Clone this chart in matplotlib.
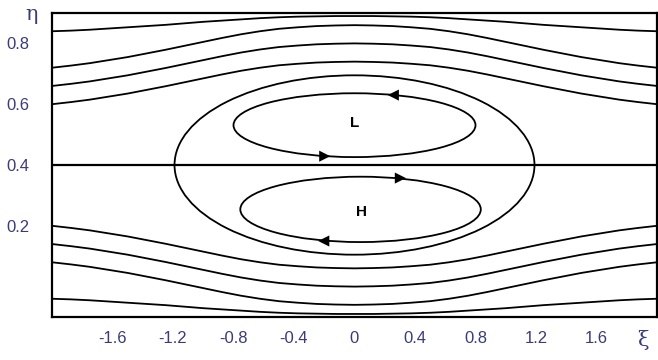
import numpy as np
import matplotlib
matplotlib.use('Agg')
import matplotlib.pyplot as plt
from matplotlib.patches import Ellipse

xi_half = [0.0, 0.125, 0.25, 0.375, 0.5, 0.625, 0.75, 0.875, 1.0,
           1.125, 1.25, 1.375, 1.5, 1.625, 1.75, 1.875, 2.0]

upper1 = [0.740, 0.739, 0.737, 0.733, 0.728, 0.720, 0.710, 0.698, 0.685,
          0.672, 0.659, 0.647, 0.635, 0.625, 0.615, 0.607, 0.600]
upper2 = [0.800, 0.799, 0.797, 0.793, 0.788, 0.780, 0.770, 0.758, 0.745,
          0.732, 0.719, 0.707, 0.695, 0.685, 0.675, 0.667, 0.660]
upper3 = [0.860, 0.859, 0.857, 0.853, 0.848, 0.840, 0.830, 0.818, 0.805,
          0.792, 0.779, 0.767, 0.755, 0.745, 0.735, 0.727, 0.720]
upper4 = [0.890, 0.890, 0.889, 0.888, 0.886, 0.883, 0.879, 0.875, 0.871,
          0.866, 0.861, 0.857, 0.853, 0.849, 0.845, 0.842, 0.840]

lower1 = [0.060, 0.061, 0.063, 0.067, 0.072, 0.080, 0.090, 0.102, 0.115,
          0.128, 0.141, 0.153, 0.165, 0.175, 0.185, 0.193, 0.200]
lower2 = [0.000, 0.001, 0.003, 0.007, 0.012, 0.020, 0.030, 0.042, 0.055,
          0.068, 0.081, 0.093, 0.105, 0.115, 0.125, 0.133, 0.140]
lower3 = [-0.060, -0.059, -0.057, -0.053, -0.048, -0.040, -0.030, -0.018, -0.005,
          0.008, 0.021, 0.033, 0.045, 0.055, 0.065, 0.073, 0.080]
lower4 = [-0.090, -0.090, -0.089, -0.088, -0.086, -0.083, -0.079, -0.075, -0.071,
          -0.066, -0.061, -0.057, -0.053, -0.049, -0.045, -0.042, -0.040]

axis_eta = 0.4

# closed streamlines: centre (xi, eta), full width, full height
separatrix = (0.0, 0.4, 2.38, 0.59)
loop_L = (0.0, 0.531, 1.60, 0.21)
loop_H = (0.04, 0.254, 1.59, 0.215)

# arrows: xi, eta, direction (+1 right, -1 left)
arrow_xi = [0.26, -0.20, 0.30, -0.20]
arrow_eta = [0.630, 0.429, 0.357, 0.150]
arrow_dir = [-1, 1, 1, -1]

labels = ['L', 'H']
label_xi = [0.0, 0.045]
label_eta = [0.537, 0.245]

x_ticks = [-1.6, -1.2, -0.8, -0.4, 0, 0.4, 0.8, 1.2, 1.6]
x_tick_labels = ['-1.6', '-1.2', '-0.8', '-0.4', '0', '0.4', '0.8', '1.2', '1.6']
y_ticks = [0.2, 0.4, 0.6, 0.8]
y_tick_labels = ['0.2', '0.4', '0.6', '0.8']

blue = '#3b3b7a'
plt.rcParams['font.family'] = ['Liberation Sans', 'DejaVu Sans']

fig = plt.figure(figsize=(6.58, 3.6), dpi=100)
ax = fig.add_axes([52 / 658, 43 / 360, 605 / 658, 304 / 360])

xi = [-v for v in xi_half[::-1]] + xi_half[1:]
for half in [upper1, upper2, upper3, upper4, lower1, lower2, lower3, lower4]:
    ax.plot(xi, half[::-1] + half[1:], color='black', lw=1.3)

ax.axhline(axis_eta, color='black', lw=1.6)

for cx, cy, w, h in [separatrix, loop_L, loop_H]:
    ax.add_patch(Ellipse((cx, cy), w, h, fill=False, ec='black', lw=1.3))

for x, y, d in zip(arrow_xi, arrow_eta, arrow_dir):
    ax.annotate('', xy=(x + d * 0.04, y), xytext=(x - d * 0.04, y),
                arrowprops=dict(arrowstyle='-|>', color='black', lw=0,
                                mutation_scale=20, shrinkA=0, shrinkB=0))

for t, x, y in zip(labels, label_xi, label_eta):
    ax.text(x, y, t, ha='center', va='center', fontsize=11, fontweight='bold')

ax.set_xlim(-2, 2)
ax.set_ylim(-0.1, 0.9)
ax.set_xticks(x_ticks)
ax.set_xticklabels(x_tick_labels)
ax.set_yticks(y_ticks)
ax.set_yticklabels(y_tick_labels)
ax.tick_params(length=0, labelsize=12, labelcolor=blue)
ax.tick_params(axis='x', pad=10)
ax.tick_params(axis='y', pad=16)
for s in ax.spines.values():
    s.set_linewidth(1.6)

fig.text(32 / 658, 1 - 15 / 360, 'η', color=blue, fontsize=15,
         ha='center', va='center', family='DejaVu Serif')
fig.text(643 / 658, 1 - 340 / 360, 'ξ', color=blue, fontsize=15,
         ha='center', va='center', family='DejaVu Serif')

fig.savefig('out.png', dpi=100)
